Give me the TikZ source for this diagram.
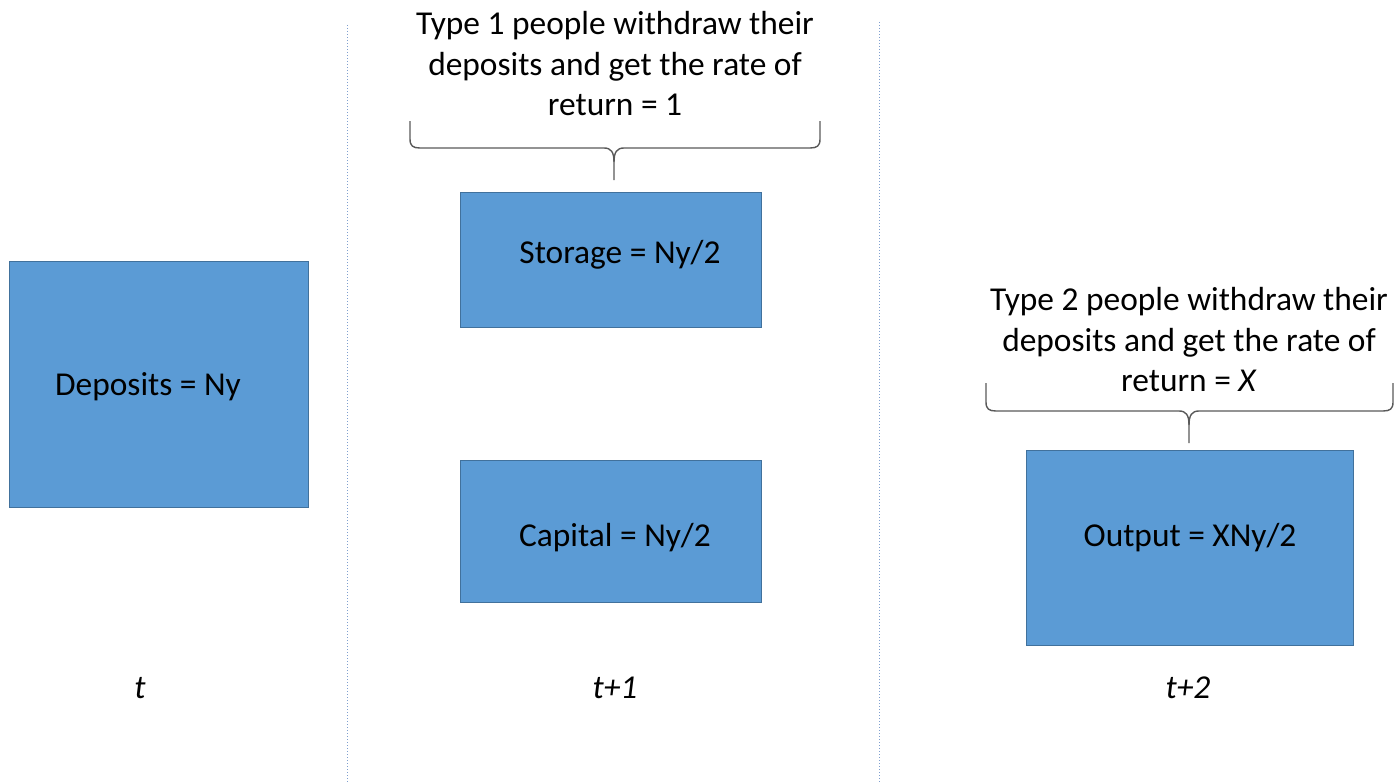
\documentclass[tikz,border=0pt]{standalone}
\usepackage{fontspec}
\setmainfont{Carlito}
\definecolor{boxfill}{HTML}{5B9BD5}
\definecolor{boxline}{HTML}{41719C}
\definecolor{bracecol}{HTML}{595959}
\definecolor{sepcol}{HTML}{7F9FCF}
\tikzset{
  stagebox/.style={draw=boxline, line width=1pt, fill=boxfill, inner sep=0pt, text=black},
  bigtext/.style={font=\fontsize{33.4}{40.5}\selectfont, align=center, inner sep=0pt},
  bracestyle/.style={draw=bracecol, line width=1.4pt, line join=round},
  sepline/.style={draw=sepcol, line width=1pt, dotted}
}
\begin{document}
\begin{tikzpicture}[x=1pt,y=-1pt]
\useasboundingbox (0,0) rectangle (1395,784);
% separators
\draw[sepline] (347,25) -- (347,784);
\draw[sepline] (879,22) -- (879,784);
% boxes
\node[stagebox, minimum width=299pt, minimum height=246pt] (dep) at (158.5,384) {};
\node[bigtext] (deptext) at (148,387) {Deposits = Ny};
\node[stagebox, minimum width=301pt, minimum height=135pt] (sto) at (610.5,259.5) {};
\node[bigtext] (stotext) at (620,255) {Storage = Ny/2};
\node[stagebox, minimum width=301pt, minimum height=142pt] (cap) at (610.5,531) {};
\node[bigtext] (captext) at (615,538) {Capital = Ny/2};
\node[stagebox, minimum width=327pt, minimum height=195pt] (out) at (1189.5,547.5) {};
\node[bigtext] (outtext) at (1190,538) {Output = XNy/2};
% top texts
\node[bigtext] (type1) at (615,64) {Type 1 people withdraw their\\deposits and get the rate of\\return = 1};
\node[bigtext] (type2) at (1189,340) {Type 2 people withdraw their\\deposits and get the rate of\\return = \textit{X}};
% braces
\draw[bracestyle] (410,121) -- (410,139) .. controls (410,146) and (413,148) .. (420,148)
  -- (604,148) .. controls (611,148) and (614,152) .. (614,162) -- (614,180);
\draw[bracestyle] (820,121) -- (820,139) .. controls (820,146) and (817,148) .. (810,148)
  -- (624,148) .. controls (617,148) and (614,152) .. (614,162);
\draw[bracestyle] (986,383) -- (986,402) .. controls (986,409) and (989,411) .. (996,411)
  -- (1179,411) .. controls (1186,411) and (1189,415) .. (1189,425) -- (1189,443);
\draw[bracestyle] (1393,383) -- (1393,402) .. controls (1393,409) and (1390,411) .. (1383,411)
  -- (1199,411) .. controls (1192,411) and (1189,415) .. (1189,425);
% time labels
\node[bigtext] (t0) at (140,688) {\textit{t}};
\node[bigtext] (t1) at (615,688) {\textit{t+1}};
\node[bigtext] (t2) at (1188,688) {\textit{t+2}};
\end{tikzpicture}
\end{document}
